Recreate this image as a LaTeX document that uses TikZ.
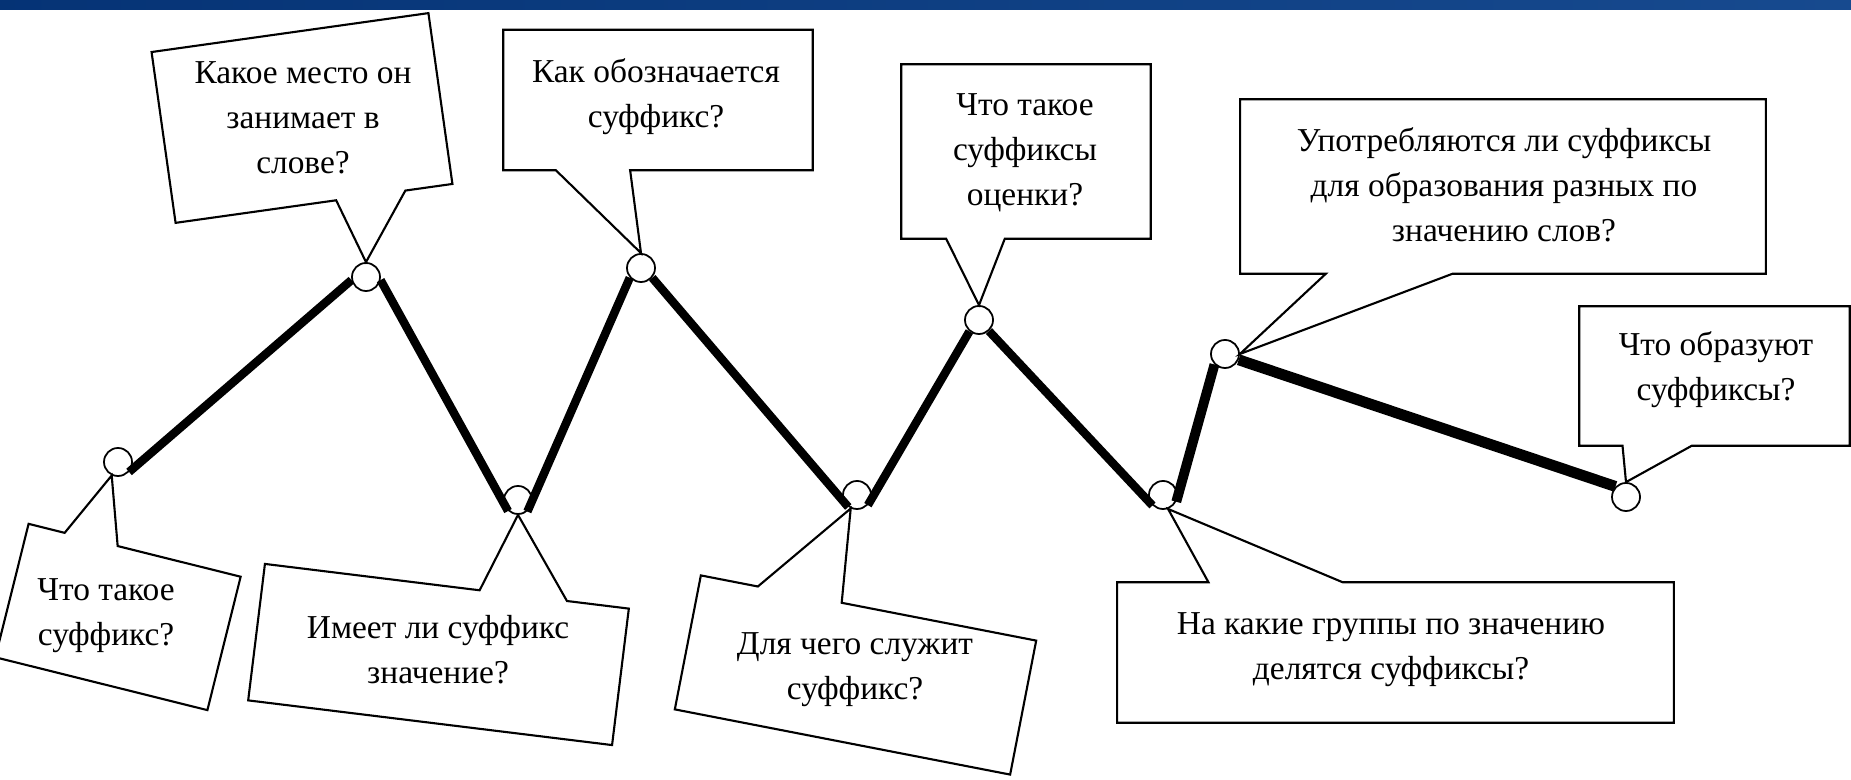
\documentclass[tikz,border=0pt]{standalone}
\usepackage{fontspec}
\setmainfont{Liberation Serif}
\usetikzlibrary{calc}

\definecolor{banddark}{rgb}{0.02,0.20,0.46}
\definecolor{bandlight}{rgb}{0.09,0.29,0.56}

\tikzstyle{vertex} = [circle,draw,line width=0.5pt,minimum size=0.28cm,inner sep=0pt,fill=white]
\tikzstyle{frame} = [rectangle,inner sep=0pt]
\tikzstyle{question} = [align=center,font=\fontsize{9.5pt}{12.8pt}\selectfont]
\tikzstyle{balloon} = [line width=0.6pt,line join=miter]
\tikzstyle{edge} = [line width=2.4pt]

\begin{document}
\begin{tikzpicture}[x=0.01cm,y=-0.01cm]
	\useasboundingbox (0,0) rectangle (1851,780);
	\shade[left color=banddark,right color=bandlight] (0,0) rectangle (1851,10);

	% points of the zigzag
	\node[vertex] (n1) at (118,462) {};
	\node[vertex] (n2) at (366,277) {};
	\node[vertex] (n3) at (518,500) {};
	\node[vertex] (n4) at (641,268) {};
	\node[vertex] (n5) at (857,495) {};
	\node[vertex] (n6) at (979,320) {};
	\node[vertex] (n7) at (1163,495) {};
	\node[vertex] (n8) at (1225,354) {};
	\node[vertex] (n9) at (1626,497) {};

	% frames of the questions
	\node[frame,rotate=-14,minimum width=2.17cm,minimum height=1.36cm] (q1) at (118,617) {};
	\node[frame,rotate=8,minimum width=2.78cm,minimum height=1.71cm] (q2) at (302,118) {};
	\node[frame,rotate=-7,minimum width=3.65cm,minimum height=1.36cm] (q3) at (438.5,654.5) {};
	\node[frame,minimum width=3.08cm,minimum height=1.39cm] (q4) at (658,100) {};
	\node[frame,rotate=-11,minimum width=3.40cm,minimum height=1.35cm] (q5) at (855.5,675) {};
	\node[frame,minimum width=2.48cm,minimum height=1.73cm] (q6) at (1026,151.5) {};
	\node[frame,minimum width=5.55cm,minimum height=1.39cm] (q7) at (1395.5,652.5) {};
	\node[frame,minimum width=5.24cm,minimum height=1.73cm] (q8) at (1503,186.5) {};
	\node[frame,minimum width=2.69cm,minimum height=1.38cm] (q9) at (1714.5,376) {};

	\draw[balloon] (q1.north west) -- ($(q1.north west)!.17!(q1.north east)$) -- (n1.245)
		-- ($(q1.north west)!.42!(q1.north east)$) -- (q1.north east) -- (q1.south east)
		-- (q1.south west) -- cycle;
	\draw[balloon] (q2.north west) -- (q2.north east) -- (q2.south east)
		-- ($(q2.south west)!.83!(q2.south east)$) -- (n2.north)
		-- ($(q2.south west)!.58!(q2.south east)$) -- (q2.south west) -- cycle;
	\draw[balloon] (q3.north west) -- ($(q3.north west)!.59!(q3.north east)$) -- (n3.south)
		-- ($(q3.north west)!.83!(q3.north east)$) -- (q3.north east) -- (q3.south east)
		-- (q3.south west) -- cycle;
	\draw[balloon] (q4.north west) -- (q4.north east) -- (q4.south east)
		-- ($(q4.south west)!.41!(q4.south east)$) -- (n4.north)
		-- ($(q4.south west)!.17!(q4.south east)$) -- (q4.south west) -- cycle;
	\draw[balloon] (q5.north west) -- ($(q5.north west)!.17!(q5.north east)$) -- (n5.245)
		-- ($(q5.north west)!.42!(q5.north east)$) -- (q5.north east) -- (q5.south east)
		-- (q5.south west) -- cycle;
	\draw[balloon] (q6.north west) -- (q6.north east) -- (q6.south east)
		-- ($(q6.south west)!.415!(q6.south east)$) -- (n6.north)
		-- ($(q6.south west)!.18!(q6.south east)$) -- (q6.south west) -- cycle;
	\draw[balloon] (q7.north west) -- ($(q7.north west)!.164!(q7.north east)$) -- (n7.-70)
		-- ($(q7.north west)!.405!(q7.north east)$) -- (q7.north east) -- (q7.south east)
		-- (q7.south west) -- cycle;
	\draw[balloon] (q8.north west) -- (q8.north east) -- (q8.south east)
		-- ($(q8.south west)!.404!(q8.south east)$) -- (n8.east)
		-- ($(q8.south west)!.163!(q8.south east)$) -- (q8.south west) -- cycle;
	\draw[balloon] (q9.north west) -- (q9.north east) -- (q9.south east)
		-- ($(q9.south west)!.416!(q9.south east)$) -- (n9.north)
		-- ($(q9.south west)!.16!(q9.south east)$) -- (q9.south west) -- cycle;

	% texts
	\node[question] (t1) at (106,616) {Что такое\\суффикс?};
	\node[question] (t2) at (303,118) {Какое место он\\занимает в\\слове?};
	\node[question] (t3) at (438,650) {Имеет ли суффикс\\значение?};
	\node[question] (t4) at (656,97) {Как обозначается\\суффикс?};
	\node[question] (t5) at (855,670) {Для чего служит\\суффикс?};
	\node[question] (t6) at (1025,153) {Что такое\\суффиксы\\оценки?};
	\node[question] (t7) at (1391,650) {На какие группы по значению\\делятся суффиксы?};
	\node[question] (t8) at (1504,185) {Употребляются ли суффиксы\\для образования разных по\\значению слов?};
	\node[question] (t9) at (1716,370) {Что образуют\\суффиксы?};

	% thick zigzag
	\draw[edge] (n1.-42) -- (n2.192);
	\draw[edge] (n2.-12) -- (n3.228);
	\draw[edge] (n3.-51) -- (n4.221);
	\draw[edge] (n4.-41) -- (n5.234);
	\draw[edge] (n5.-43) -- (n6.230);
	\draw[edge] (n6.-48) -- (n7.225);
	\draw[edge,line width=2.8pt] (n7.-27) -- (n8.225);
	\draw[edge,line width=3.1pt] (n8.-23) -- (n9.135);
\end{tikzpicture}
\end{document}
